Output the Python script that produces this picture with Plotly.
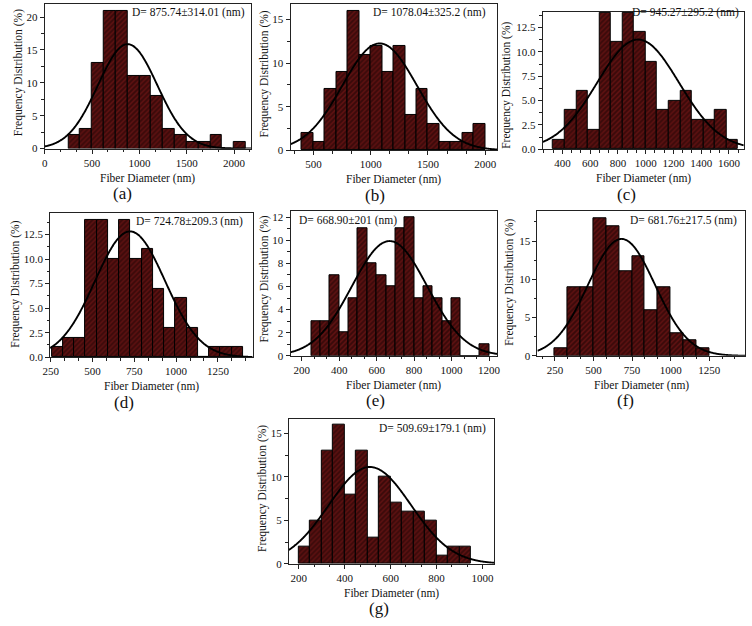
import numpy as np
import plotly.graph_objects as go

W, H = 752, 626

# ---------------- data ----------------
panel_letters = ["(a)", "(b)", "(c)", "(d)", "(e)", "(f)", "(g)"]
d_texts = ["D= 875.74±314.01 (nm)", "D= 1078.04±325.2 (nm)", "D= 945.27±295.2 (nm)",
           "D= 724.78±209.3 (nm)", "D= 668.90±201 (nm)", "D= 681.76±217.5 (nm)",
           "D= 509.69±179.1 (nm)"]
means = [875.74, 1078.04, 945.27, 724.78, 668.90, 681.76, 509.69]
sds = [314.01, 325.2, 295.2, 209.3, 201.0, 217.5, 179.1]
bin_starts = [250, 400, 333.33, 257, 250, 250, 200]
bin_widths = [125, 100, 83.33, 67.25, 50, 83.33, 50]

counts_a = [2, 3, 13, 21, 21, 11, 11, 8, 3, 2, 1, 1, 2, 0, 1]
counts_b = [2, 1, 7, 9, 16, 11, 12, 9, 12, 4, 7, 3, 1, 1, 2, 3]
counts_c = [1, 4, 6, 2, 14, 11, 14, 12, 9, 4, 5, 6, 3, 3, 4, 1]
counts_d = [1, 2, 2, 14, 14, 10, 14, 10, 11, 7, 3, 6, 3, 0, 1, 1, 1]
counts_e = [3, 3, 7, 2, 5, 11, 8, 7, 6, 11, 12, 5, 6, 5, 3, 5, 0, 0, 1]
counts_f = [1, 9, 9, 18, 17, 11, 13, 6, 9, 3, 2, 1]
counts_g = [2, 5, 13, 16, 8, 13, 3, 10, 7, 6, 6, 5, 1, 2, 2]
all_counts = [counts_a, counts_b, counts_c, counts_d, counts_e, counts_f, counts_g]

# y tick labels per panel
yticks_a = ["0", "5", "10", "15", "20"]
yticks_b = ["0", "5", "10", "15"]
yticks_c = ["0.0", "2.5", "5.0", "7.5", "10.0", "12.5"]
yticks_d = ["0.0", "2.5", "5.0", "7.5", "10.0", "12.5"]
yticks_e = ["0", "2", "4", "6", "8", "10", "12"]
yticks_f = ["0", "5", "10", "15"]
yticks_g = ["0", "5", "10", "15"]
all_yticks = [yticks_a, yticks_b, yticks_c, yticks_d, yticks_e, yticks_f, yticks_g]

# ---------------- layout (pixels) ----------------
frames = [  # x0, x1, y0(top), y1(bottom)
    (37.3, 246.7, 4, 150),
    (286.7, 496.7, 4, 151.7),
    (542.7, 746.7, 12, 150.7),
    (42.7, 248.3, 215, 360.7),
    (286.7, 496.7, 213.3, 359.3),
    (537.3, 748.3, 213.3, 359.3),
    (285, 493.3, 422.7, 569.3),
]
x_ranges = [(0, 2180), (300, 2106), (258, 1707), (246.5, 1458), (140, 1245), (137, 1484), (157, 1050)]
y_ranges = [(0, 22), (0, 16.8), (0, 14.1), (0, 14.7), (0, 12.5), (0, 18.9), (0, 16.7)]
x_dticks = [500, 500, 200, 250, 200, 250, 200]
x_tick0 = [0, 500, 400, 250, 200, 250, 200]
y_minor = [2.5, 2.5, 1.25, 1.25, 1, 2.5, 2.5]
ytitle_x = [10, 260, 506, 7.5, 260, 509, 258.5]
ytitle_y = [73, 75, 86, 287, 282, 285, 493]
letter_x = [116, 372, 628, 118, 373, 627, 376]
dtext_pos = [(243, 13, "right"), (487, 13, "right"), (744, 13, "right"), (241, 224, "right"),
             (293, 223, "left"), (742, 223, "right"), (487, 433, "right")]

FONT = "Liberation Serif"
BAR_BG = "#5c1010"

def px_x(p):
    return p / W

def px_y(p):
    return 1 - p / H

fig = go.Figure()
annotations = []
for i in range(7):
    ax = "" if i == 0 else str(i + 1)
    xref, yref = "x" + ax, "y" + ax
    counts = all_counts[i]
    bw = bin_widths[i]
    centers = [bin_starts[i] + bw * (k + 0.5) for k in range(len(counts))]
    fig.add_trace(go.Bar(
        x=centers, y=counts, width=bw, xaxis=xref, yaxis=yref,
        marker=dict(color=BAR_BG,
                    pattern=dict(shape="/", fgcolor="#150303", bgcolor=BAR_BG,
                                 size=3.5, solidity=0.5, fillmode="overlay"),
                    line=dict(color="black", width=1)),
        showlegend=False, hoverinfo="skip"))
    # fitted normal curve from the reported mean and standard deviation
    xs = np.linspace(x_ranges[i][0], x_ranges[i][1], 300)
    ys = 100 * bw / (sds[i] * np.sqrt(2 * np.pi)) * np.exp(-(xs - means[i]) ** 2 / (2 * sds[i] ** 2))
    fig.add_trace(go.Scatter(x=xs, y=ys, mode="lines", xaxis=xref, yaxis=yref,
                             line=dict(color="black", width=1.9, shape="spline"),
                             showlegend=False, hoverinfo="skip", cliponaxis=True))

    x0, x1, y0, y1 = frames[i]
    axis_common = dict(showline=True, linecolor="#222", linewidth=1, mirror=True,
                       ticks="outside", ticklen=4, tickcolor="#222", showgrid=False,
                       zeroline=False, tickfont=dict(family=FONT, size=11, color="#111"))
    fig.layout["xaxis" + ax] = dict(domain=[px_x(x0), px_x(x1)], range=list(x_ranges[i]),
                                    anchor=yref, dtick=x_dticks[i], tick0=x_tick0[i],
                                    minor=dict(dtick=x_dticks[i] / 3, tick0=x_tick0[i],
                                               ticks="outside", ticklen=2.5, tickcolor="#222"),
                                    **axis_common)
    ylabels = all_yticks[i]
    fig.layout["yaxis" + ax] = dict(domain=[px_y(y1), px_y(y0)], range=list(y_ranges[i]),
                                    anchor=xref, tickmode="array",
                                    tickvals=[float(t) for t in ylabels], ticktext=ylabels,
                                    minor=dict(dtick=y_minor[i], tick0=0,
                                               ticks="outside", ticklen=2.5, tickcolor="#222"),
                                    **axis_common)
    # x axis title
    annotations.append(dict(x=px_x((x0 + x1) / 2), y=px_y(y1 + 30), xref="paper", yref="paper",
                            text="Fiber Diameter (nm)", showarrow=False,
                            font=dict(family=FONT, size=11.5, color="#111"),
                            xanchor="center", yanchor="middle"))
    # panel letter
    annotations.append(dict(x=px_x(letter_x[i]), y=px_y(y1 + 45.5), xref="paper", yref="paper",
                            text=panel_letters[i], showarrow=False,
                            font=dict(family=FONT, size=17, color="#111"),
                            xanchor="center", yanchor="middle"))
    # y axis title
    annotations.append(dict(x=px_x(ytitle_x[i]), y=px_y(ytitle_y[i]), xref="paper", yref="paper",
                            text="Frequency Distribution (%)", showarrow=False, textangle=-90,
                            font=dict(family=FONT, size=11.5, color="#111"),
                            xanchor="center", yanchor="middle"))
    # D= annotation
    dx, dy, anc = dtext_pos[i]
    annotations.append(dict(x=px_x(dx), y=px_y(dy), xref="paper", yref="paper",
                            text=d_texts[i], showarrow=False,
                            font=dict(family=FONT, size=11.5, color="#111"),
                            xanchor=anc, yanchor="middle"))

fig.update_layout(width=W, height=H, margin=dict(l=0, r=0, t=0, b=0),
                  paper_bgcolor="white", plot_bgcolor="white",
                  bargap=0, annotations=annotations, showlegend=False)

fig.write_html("out.html", config={"displayModeBar": False},
               post_script="document.body.style.margin='0';document.body.style.overflow='hidden';")
